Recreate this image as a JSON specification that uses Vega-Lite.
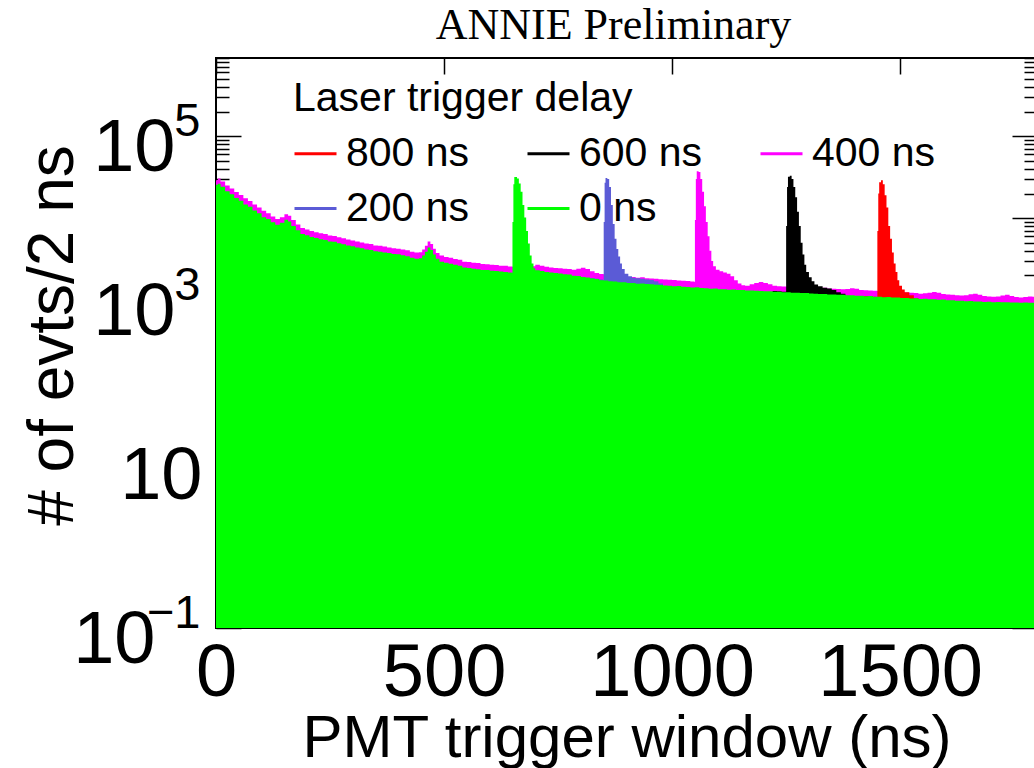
{
"$schema": "https://vega.github.io/schema/vega-lite/v6.json",
"width": 821, "height": 570,
"autosize": "none",
"padding": {"left": 216, "top": 58, "right": -3, "bottom": 140},
"background": "white",
"title": {"text": "ANNIE Preliminary", "font": "Liberation Serif", "fontSize": 44, "fontWeight": "normal", "color": "black", "anchor": "middle", "frame": "group", "dx": -13, "baseline": "alphabetic", "offset": -26},
"config": {
 "view": {"stroke": "black", "strokeWidth": 2},
 "axis": {"labelFont": "Liberation Sans", "titleFont": "Liberation Sans", "labelColor": "black", "titleColor": "black", "titleFontWeight": "normal", "grid": false, "labelFlush": false, "labelOverlap": false, "tickColor": "black", "domain": false, "tickWidth": 1.5},
 "legend": {"titleFont": "Liberation Sans", "titleFontSize": 41, "titleFontWeight": "normal", "titleColor": "black", "titleLimit": 600, "labelFont": "Liberation Sans", "labelFontSize": 41, "labelColor": "black", "symbolType": "stroke", "symbolSize": 1764, "symbolStrokeWidth": 3, "labelOffset": 8, "columnPadding": 51, "rowPadding": 12, "titlePadding": 11, "padding": 0, "labelLimit": 300}
},
"resolve": {"axis": {"x": "independent", "y": "independent"}},
"datasets": {
 "m": [{"t":0,"n":29000},{"t":4,"n":30500},{"t":10,"n":28000},{"t":20,"n":25000},{"t":30,"n":23000},{"t":40,"n":20800},{"t":50,"n":19200},{"t":60,"n":17500},{"t":70,"n":16200},{"t":80,"n":14700},{"t":90,"n":13500},{"t":100,"n":12300},{"t":110,"n":11500},{"t":120,"n":10500},{"t":130,"n":9800},{"t":140,"n":10300},{"t":150,"n":11200},{"t":158,"n":10700},{"t":165,"n":9500},{"t":175,"n":8400},{"t":185,"n":7600},{"t":195,"n":7300},{"t":205,"n":7000},{"t":215,"n":6750},{"t":225,"n":6550},{"t":235,"n":6400},{"t":245,"n":6150},{"t":255,"n":6050},{"t":265,"n":5850},{"t":275,"n":5700},{"t":285,"n":5500},{"t":295,"n":5350},{"t":305,"n":5200},{"t":315,"n":5050},{"t":325,"n":4900},{"t":335,"n":4850},{"t":345,"n":4650},{"t":355,"n":4600},{"t":365,"n":4500},{"t":375,"n":4400},{"t":385,"n":4300},{"t":395,"n":4250},{"t":405,"n":4150},{"t":415,"n":4050},{"t":425,"n":3900},{"t":435,"n":3800},{"t":445,"n":3850},{"t":452,"n":4150},{"t":458,"n":4600},{"t":464,"n":5200},{"t":470,"n":4850},{"t":476,"n":4250},{"t":482,"n":3750},{"t":490,"n":3500},{"t":500,"n":3350},{"t":510,"n":3300},{"t":520,"n":3180},{"t":530,"n":3100},{"t":540,"n":2950},{"t":550,"n":2920},{"t":560,"n":2850},{"t":570,"n":2830},{"t":580,"n":2760},{"t":590,"n":2750},{"t":600,"n":2700},{"t":610,"n":2680},{"t":620,"n":2630},{"t":630,"n":2620},{"t":640,"n":2570},{"t":650,"n":2560},{"t":660,"n":2600},{"t":670,"n":2580},{"t":680,"n":2550},{"t":690,"n":2600},{"t":700,"n":2700},{"t":710,"n":2620},{"t":720,"n":2560},{"t":730,"n":2500},{"t":740,"n":2470},{"t":750,"n":2450},{"t":760,"n":2420},{"t":770,"n":2400},{"t":780,"n":2350},{"t":790,"n":2420},{"t":800,"n":2480},{"t":810,"n":2400},{"t":820,"n":2250},{"t":830,"n":2140},{"t":840,"n":2080},{"t":850,"n":2050},{"t":860,"n":2000},{"t":870,"n":1990},{"t":880,"n":1950},{"t":890,"n":1940},{"t":900,"n":1910},{"t":910,"n":1920},{"t":920,"n":1880},{"t":930,"n":1900},{"t":940,"n":1850},{"t":950,"n":1840},{"t":960,"n":1820},{"t":970,"n":1800},{"t":980,"n":1780},{"t":990,"n":1770},{"t":1000,"n":1760},{"t":1010,"n":1740},{"t":1020,"n":1720},{"t":1030,"n":1710},{"t":1040,"n":1690},{"t":1048,"n":1680},{"t":1050,"n":9500},{"t":1052,"n":30000},{"t":1054,"n":37500},{"t":1058,"n":36500},{"t":1062,"n":30000},{"t":1066,"n":21000},{"t":1070,"n":14000},{"t":1074,"n":9000},{"t":1078,"n":6000},{"t":1082,"n":4000},{"t":1086,"n":3000},{"t":1090,"n":2600},{"t":1096,"n":2350},{"t":1104,"n":2250},{"t":1112,"n":2180},{"t":1120,"n":2100},{"t":1128,"n":1950},{"t":1136,"n":1750},{"t":1144,"n":1600},{"t":1152,"n":1520},{"t":1160,"n":1500},{"t":1170,"n":1560},{"t":1180,"n":1620},{"t":1190,"n":1660},{"t":1200,"n":1620},{"t":1210,"n":1560},{"t":1220,"n":1500},{"t":1230,"n":1480},{"t":1240,"n":1470},{"t":1250,"n":1460},{"t":1260,"n":1470},{"t":1270,"n":1450},{"t":1280,"n":1430},{"t":1290,"n":1440},{"t":1300,"n":1420},{"t":1310,"n":1410},{"t":1320,"n":1400},{"t":1330,"n":1420},{"t":1340,"n":1390},{"t":1350,"n":1380},{"t":1360,"n":1370},{"t":1370,"n":1360},{"t":1380,"n":1370},{"t":1390,"n":1400},{"t":1400,"n":1380},{"t":1410,"n":1330},{"t":1420,"n":1320},{"t":1430,"n":1310},{"t":1440,"n":1300},{"t":1450,"n":1290},{"t":1460,"n":1280},{"t":1470,"n":1270},{"t":1480,"n":1300},{"t":1490,"n":1320},{"t":1500,"n":1260},{"t":1510,"n":1240},{"t":1520,"n":1230},{"t":1530,"n":1220},{"t":1540,"n":1200},{"t":1550,"n":1210},{"t":1560,"n":1230},{"t":1570,"n":1260},{"t":1580,"n":1230},{"t":1590,"n":1190},{"t":1600,"n":1170},{"t":1610,"n":1160},{"t":1620,"n":1150},{"t":1630,"n":1140},{"t":1640,"n":1150},{"t":1650,"n":1180},{"t":1660,"n":1200},{"t":1670,"n":1160},{"t":1680,"n":1120},{"t":1690,"n":1110},{"t":1700,"n":1100},{"t":1710,"n":1110},{"t":1720,"n":1140},{"t":1730,"n":1160},{"t":1740,"n":1120},{"t":1750,"n":1090},{"t":1760,"n":1080},{"t":1770,"n":1090},{"t":1780,"n":1110},{"t":1790,"n":1100},{"t":1800,"n":1090}],
 "b": [{"t":820,"n":1860},{"t":830,"n":1820},{"t":840,"n":1780},{"t":848,"n":1760},{"t":850,"n":9000},{"t":852,"n":27000},{"t":854,"n":31000},{"t":858,"n":30000},{"t":862,"n":24000},{"t":866,"n":14500},{"t":870,"n":8500},{"t":874,"n":5600},{"t":878,"n":4200},{"t":882,"n":3400},{"t":886,"n":2800},{"t":890,"n":2400},{"t":896,"n":2100},{"t":904,"n":1950},{"t":912,"n":1880},{"t":920,"n":1850},{"t":930,"n":1820},{"t":940,"n":1790},{"t":950,"n":1760},{"t":960,"n":1700},{"t":970,"n":1600},{"t":980,"n":1560}],
 "k": [{"t":1220,"n":1290},{"t":1230,"n":1285},{"t":1240,"n":1270},{"t":1248,"n":1265},{"t":1250,"n":8000},{"t":1252,"n":24000},{"t":1254,"n":32000},{"t":1258,"n":33000},{"t":1262,"n":30000},{"t":1266,"n":24000},{"t":1270,"n":18000},{"t":1274,"n":12000},{"t":1278,"n":8000},{"t":1282,"n":5000},{"t":1286,"n":3600},{"t":1290,"n":2700},{"t":1294,"n":2200},{"t":1300,"n":1900},{"t":1306,"n":1700},{"t":1312,"n":1550},{"t":1320,"n":1480},{"t":1330,"n":1420},{"t":1340,"n":1390},{"t":1350,"n":1330},{"t":1360,"n":1250},{"t":1370,"n":1200},{"t":1380,"n":1180}],
 "r": [{"t":1420,"n":1120},{"t":1430,"n":1115},{"t":1440,"n":1100},{"t":1448,"n":1095},{"t":1450,"n":7000},{"t":1452,"n":20000},{"t":1454,"n":27500},{"t":1458,"n":29000},{"t":1462,"n":26000},{"t":1466,"n":19000},{"t":1470,"n":13500},{"t":1474,"n":8000},{"t":1478,"n":5600},{"t":1482,"n":3800},{"t":1486,"n":2800},{"t":1490,"n":2200},{"t":1494,"n":1750},{"t":1498,"n":1500},{"t":1504,"n":1350},{"t":1510,"n":1250},{"t":1520,"n":1150},{"t":1530,"n":1060},{"t":1540,"n":1050}],
 "g": [{"t":0,"n":25500},{"t":4,"n":26300},{"t":10,"n":24200},{"t":20,"n":21300},{"t":30,"n":19600},{"t":40,"n":17600},{"t":50,"n":16300},{"t":60,"n":14700},{"t":70,"n":13800},{"t":80,"n":12400},{"t":90,"n":11500},{"t":100,"n":10300},{"t":110,"n":9800},{"t":120,"n":8900},{"t":130,"n":8300},{"t":140,"n":8800},{"t":150,"n":9600},{"t":158,"n":9100},{"t":165,"n":8000},{"t":175,"n":7100},{"t":185,"n":6400},{"t":195,"n":6200},{"t":205,"n":5900},{"t":215,"n":5750},{"t":225,"n":5550},{"t":235,"n":5400},{"t":245,"n":5200},{"t":255,"n":5150},{"t":265,"n":4950},{"t":275,"n":4800},{"t":285,"n":4650},{"t":295,"n":4550},{"t":305,"n":4400},{"t":315,"n":4300},{"t":325,"n":4150},{"t":335,"n":4100},{"t":345,"n":3950},{"t":355,"n":3900},{"t":365,"n":3800},{"t":375,"n":3750},{"t":385,"n":3650},{"t":395,"n":3620},{"t":405,"n":3520},{"t":415,"n":3420},{"t":425,"n":3300},{"t":435,"n":3200},{"t":445,"n":3250},{"t":452,"n":3500},{"t":458,"n":3900},{"t":464,"n":4400},{"t":470,"n":4100},{"t":476,"n":3600},{"t":482,"n":3200},{"t":490,"n":2950},{"t":500,"n":2850},{"t":510,"n":2780},{"t":520,"n":2700},{"t":530,"n":2620},{"t":540,"n":2500},{"t":550,"n":2470},{"t":560,"n":2420},{"t":570,"n":2390},{"t":580,"n":2340},{"t":590,"n":2330},{"t":600,"n":2280},{"t":610,"n":2270},{"t":620,"n":2230},{"t":630,"n":2210},{"t":640,"n":2180},{"t":648,"n":2160},{"t":650,"n":9000},{"t":652,"n":26000},{"t":654,"n":31800},{"t":660,"n":30500},{"t":664,"n":26500},{"t":668,"n":21000},{"t":672,"n":14500},{"t":676,"n":10200},{"t":680,"n":7000},{"t":684,"n":4900},{"t":688,"n":3500},{"t":692,"n":2800},{"t":696,"n":2450},{"t":700,"n":2320},{"t":710,"n":2260},{"t":720,"n":2200},{"t":730,"n":2180},{"t":740,"n":2140},{"t":750,"n":2120},{"t":760,"n":2070},{"t":770,"n":2060},{"t":780,"n":1990},{"t":790,"n":1970},{"t":800,"n":1910},{"t":810,"n":1890},{"t":820,"n":1840},{"t":830,"n":1810},{"t":840,"n":1750},{"t":850,"n":1740},{"t":860,"n":1700},{"t":870,"n":1690},{"t":880,"n":1650},{"t":890,"n":1650},{"t":900,"n":1620},{"t":910,"n":1620},{"t":920,"n":1590},{"t":930,"n":1600},{"t":940,"n":1570},{"t":950,"n":1560},{"t":960,"n":1540},{"t":970,"n":1530},{"t":980,"n":1510},{"t":990,"n":1500},{"t":1000,"n":1480},{"t":1010,"n":1490},{"t":1020,"n":1460},{"t":1030,"n":1450},{"t":1040,"n":1430},{"t":1050,"n":1440},{"t":1060,"n":1410},{"t":1070,"n":1400},{"t":1080,"n":1380},{"t":1090,"n":1390},{"t":1100,"n":1360},{"t":1110,"n":1360},{"t":1120,"n":1340},{"t":1130,"n":1350},{"t":1140,"n":1330},{"t":1150,"n":1330},{"t":1160,"n":1310},{"t":1170,"n":1315},{"t":1180,"n":1300},{"t":1190,"n":1295},{"t":1200,"n":1280},{"t":1210,"n":1285},{"t":1220,"n":1265},{"t":1230,"n":1270},{"t":1240,"n":1250},{"t":1250,"n":1250},{"t":1260,"n":1235},{"t":1270,"n":1235},{"t":1280,"n":1220},{"t":1290,"n":1220},{"t":1300,"n":1205},{"t":1310,"n":1200},{"t":1320,"n":1190},{"t":1330,"n":1190},{"t":1340,"n":1175},{"t":1350,"n":1175},{"t":1360,"n":1160},{"t":1370,"n":1160},{"t":1380,"n":1145},{"t":1390,"n":1150},{"t":1400,"n":1130},{"t":1410,"n":1130},{"t":1420,"n":1115},{"t":1430,"n":1120},{"t":1440,"n":1100},{"t":1450,"n":1100},{"t":1460,"n":1085},{"t":1470,"n":1090},{"t":1480,"n":1075},{"t":1490,"n":1080},{"t":1500,"n":1065},{"t":1510,"n":1060},{"t":1520,"n":1050},{"t":1530,"n":1055},{"t":1540,"n":1035},{"t":1550,"n":1040},{"t":1560,"n":1025},{"t":1570,"n":1025},{"t":1580,"n":1010},{"t":1590,"n":1015},{"t":1600,"n":995},{"t":1610,"n":1000},{"t":1620,"n":985},{"t":1630,"n":985},{"t":1640,"n":970},{"t":1650,"n":975},{"t":1660,"n":960},{"t":1670,"n":965},{"t":1680,"n":950},{"t":1690,"n":955},{"t":1700,"n":945},{"t":1710,"n":950},{"t":1720,"n":940},{"t":1730,"n":942},{"t":1740,"n":935},{"t":1750,"n":938},{"t":1760,"n":930},{"t":1770,"n":934},{"t":1780,"n":928},{"t":1790,"n":930},{"t":1800,"n":928}]
},
"layer": [
 {
  "data": {"name": "m"},
  "mark": {"type": "area", "interpolate": "step-after", "clip": true},
  "encoding": {
   "x": {"field": "t", "type": "quantitative", "scale": {"domain": [0, 1800], "nice": false, "zero": false},
     "axis": {"orient": "bottom", "values": [0, 500, 1000, 1500], "format": "d", "ticks": false, "labelFontSize": 74, "labelBaseline": "alphabetic", "labelPadding": 67, "title": "PMT trigger window (ns)", "titleFontSize": 60, "titleBaseline": "alphabetic", "titleY": 128}},
   "y": {"field": "n", "type": "quantitative", "stack": null, "scale": {"type": "log", "domain": [0.1, 900000], "nice": false},
     "axis": {"orient": "left", "values": [0.1, 10, 1000, 100000], "ticks": false, "labelExpr": "'10'", "labelFontSize": 74, "labelBaseline": "alphabetic", "labelOffset": 34, "labelAlign": "right",
       "labelPadding": {"condition": [{"test": "datum.value > 500", "value": 41}, {"test": "datum.value < 1", "value": 61}], "value": 14},
       "title": "# of evts/2 ns", "titleFontSize": 64, "titleBaseline": "alphabetic", "titleAngle": -90, "titleAlign": "center", "titleX": -144, "titleY": 277}},
   "y2": {"datum": 0.1},
   "color": {"datum": "400 ns", "scale": {"domain": ["800 ns", "600 ns", "400 ns", "200 ns", "0 ns"], "range": ["#ff0000", "#000000", "#ff00ff", "#5b5bd6", "#00ff00"]},
     "legend": {"title": "Laser trigger delay", "orient": "none", "legendX": 77, "legendY": 21, "columns": 3, "direction": "horizontal", "encode": {"symbols": {"update": {"stroke": {"scale": "color", "field": "value"}}}}}}
  }
 },
 {
  "data": {"name": "b"},
  "mark": {"type": "area", "interpolate": "step-after", "clip": true},
  "encoding": {
   "x": {"field": "t", "type": "quantitative", "scale": {"domain": [0, 1800], "nice": false, "zero": false},
     "axis": {"orient": "top", "values": [0, 500, 1000, 1500], "labels": false, "tickSize": -16, "title": null}},
   "y": {"field": "n", "type": "quantitative", "stack": null, "scale": {"type": "log", "domain": [0.1, 900000], "nice": false},
     "axis": {"orient": "left", "values": [0.1, 1000, 100000], "ticks": false, "labelExpr": "datum.value > 50000 ? '5' : datum.value > 500 ? '3' : '−1'", "labelFontSize": 47, "labelBaseline": "alphabetic", "labelOffset": -1, "labelPadding": 16, "labelAlign": "right", "title": null}},
   "y2": {"datum": 0.1},
   "color": {"datum": "200 ns", "scale": {"domain": ["800 ns", "600 ns", "400 ns", "200 ns", "0 ns"], "range": ["#ff0000", "#000000", "#ff00ff", "#5b5bd6", "#00ff00"]}}
  }
 },
 {
  "data": {"name": "k"},
  "mark": {"type": "area", "interpolate": "step-after", "clip": true},
  "encoding": {
   "x": {"field": "t", "type": "quantitative", "scale": {"domain": [0, 1800], "nice": false, "zero": false}, "axis": null},
   "y": {"field": "n", "type": "quantitative", "stack": null, "scale": {"type": "log", "domain": [0.1, 900000], "nice": false},
     "axis": {"orient": "left", "labels": false, "title": null, "values": [0.1,0.2,0.3,0.4,0.5,0.6,0.7,0.8,0.9,1,2,3,4,5,6,7,8,9,10,20,30,40,50,60,70,80,90,100,200,300,400,500,600,700,800,900,1000,2000,3000,4000,5000,6000,7000,8000,9000,10000,20000,30000,40000,50000,60000,70000,80000,90000,100000,200000,300000,400000,500000,600000,700000,800000,900000],
       "tickSize": {"condition": {"test": "indexof([0.1,1,10,100,1000,10000,100000], datum.value) >= 0", "value": -25}, "value": -13}}},
   "y2": {"datum": 0.1},
   "color": {"datum": "600 ns", "scale": {"domain": ["800 ns", "600 ns", "400 ns", "200 ns", "0 ns"], "range": ["#ff0000", "#000000", "#ff00ff", "#5b5bd6", "#00ff00"]}}
  }
 },
 {
  "data": {"name": "r"},
  "mark": {"type": "area", "interpolate": "step-after", "clip": true},
  "encoding": {
   "x": {"field": "t", "type": "quantitative", "scale": {"domain": [0, 1800], "nice": false, "zero": false}, "axis": null},
   "y": {"field": "n", "type": "quantitative", "stack": null, "scale": {"type": "log", "domain": [0.1, 900000], "nice": false},
     "axis": {"orient": "right", "labels": false, "title": null, "values": [0.1,0.2,0.3,0.4,0.5,0.6,0.7,0.8,0.9,1,2,3,4,5,6,7,8,9,10,20,30,40,50,60,70,80,90,100,200,300,400,500,600,700,800,900,1000,2000,3000,4000,5000,6000,7000,8000,9000,10000,20000,30000,40000,50000,60000,70000,80000,90000,100000,200000,300000,400000,500000,600000,700000,800000,900000],
       "tickSize": {"condition": {"test": "indexof([0.1,1,10,100,1000,10000,100000], datum.value) >= 0", "value": -25}, "value": -13}}},
   "y2": {"datum": 0.1},
   "color": {"datum": "800 ns", "scale": {"domain": ["800 ns", "600 ns", "400 ns", "200 ns", "0 ns"], "range": ["#ff0000", "#000000", "#ff00ff", "#5b5bd6", "#00ff00"]}}
  }
 },
 {
  "data": {"name": "g"},
  "mark": {"type": "area", "interpolate": "step-after", "clip": true},
  "encoding": {
   "x": {"field": "t", "type": "quantitative", "scale": {"domain": [0, 1800], "nice": false, "zero": false}, "axis": null},
   "y": {"field": "n", "type": "quantitative", "stack": null, "scale": {"type": "log", "domain": [0.1, 900000], "nice": false}, "axis": null},
   "y2": {"datum": 0.1},
   "color": {"datum": "0 ns", "scale": {"domain": ["800 ns", "600 ns", "400 ns", "200 ns", "0 ns"], "range": ["#ff0000", "#000000", "#ff00ff", "#5b5bd6", "#00ff00"]}}
  }
 }
]
}
